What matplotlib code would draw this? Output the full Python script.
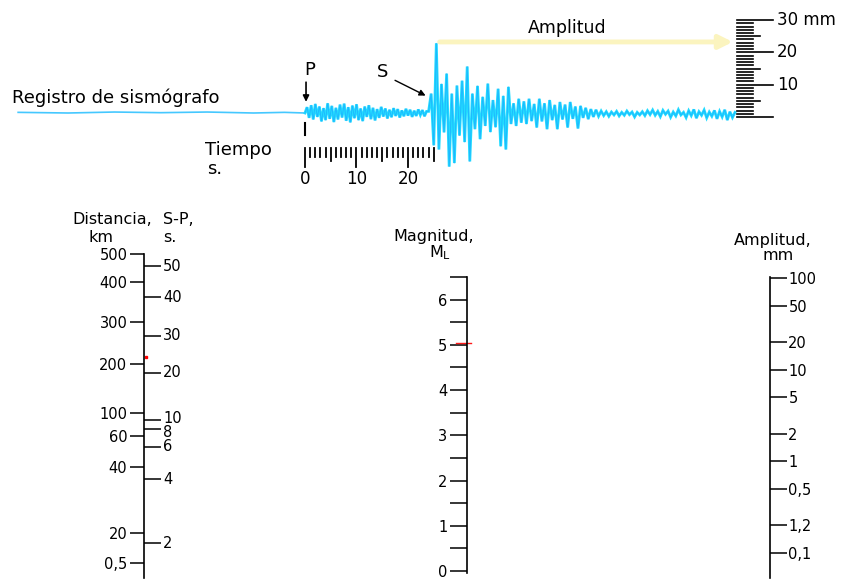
import matplotlib.pyplot as plt
import numpy as np
from matplotlib.ticker import FixedFormatter, FixedLocator, NullFormatter, NullLocator
from matplotlib.transforms import blended_transform_factory

W, H = 861, 581
plt.rcParams["font.family"] = ["DejaVu Sans"]

# ── Sismograma (tiempo en s desde P, amplitud en mm) ───────────────────────
pre_t = [-55.7, -46.0, -37.0, -28.0, -19.0, -10.0, -4.0, 0.0]
pre_a = [0.2, 0.0, 0.3, 0.1, 0.3, 0.0, 0.2, 0.0]

p_start, p_step = 0.0, 0.4
p_coda = [0.0, 1.8, -1.5, 2.4, -2.0, 2.8, -1.2, 2.0, -2.6, 1.5,
          -2.2, 3.0, -1.8, 2.2, -2.8, 1.6, -2.0, 2.6, -1.4, 2.9,
          -2.4, 1.8, -2.9, 2.3, -1.6, 2.7, -2.2, 1.4, -2.5, 2.0,
          -1.2, 2.4, -1.9, 1.6, -2.3, 1.2, -1.5, 1.9, -1.1, 1.4,
          -1.7, 1.0, -1.3, 1.5, -0.9, 1.2, -1.4, 0.8, -1.0, 1.3,
          -0.8, 1.0, -1.2, 0.7, -0.9, 1.1, -0.6, 0.9, -1.0, 0.5]

s_start, s_step = 24.0, 0.5
s_wave = [0.5, 6.0, -10.0, 21.6, -11.3, 9.0, -6.0, 12.2, -16.6, 6.0,
          -15.5, 8.5, -7.0, 10.0, -9.0, 14.4, -15.0, 6.0, -5.0, 8.4,
          -8.1, 5.0, -4.0, 9.1, -5.9, 4.0, -4.4, 7.5, -10.3, 5.3,
          -11.3, 8.1, -3.4, 3.0, -4.0, 4.4, -3.0, 3.6, -3.4, 4.4,
          -2.5, 2.8, -4.5, 4.4, -2.6, 3.0, -5.0, 4.0, -2.2, 2.5,
          -5.0, 3.4, -2.0, 2.6, -4.5, 3.4, -1.8, 2.0, -4.8, 2.2,
          -1.5, 1.6, -1.9, 1.2, -1.2, 1.0, -1.0]

tail_start, tail_step = 57.5, 0.5
tail = [0.6, -0.8, 0.4, -1.0, 0.3, -0.6, 0.5, -0.9, 0.2, -0.7,
        0.6, -0.5, 0.3, -1.2, 0.2, -0.6, 0.4, -0.8, 0.7, -0.5,
        0.9, -0.7, 0.5, -1.1, 0.8, -0.4, 0.6, -1.3, 0.3, -0.9,
        1.0, -0.6, 0.2, -1.4, 0.7, -0.8, 1.1, -1.6, 0.4, -0.7,
        0.9, -1.5, 0.3, -1.0, 0.8, -1.8, 0.5, -1.2, 1.0, -2.2,
        0.4, -1.4, 0.2]

time_ticks = list(range(0, 26))
time_labels = [0, 10, 20]
ruler_mm = list(range(0, 31))
ruler_labels = {30: "30 mm", 20: "20", 10: "10"}

# ── Nomograma ──────────────────────────────────────────────────────────────
# distancia sobre la escala -log A0 (Richter)
dist_logA0 = [4.73, 4.43, 3.99, 3.53, 3.0, 2.75, 2.41, 1.69, 1.36]
dist_labels = ["500", "400", "300", "200", "100", "60", "40", "20", "0,5"]
sp_logA0 = [4.60, 4.26, 3.84, 3.44, 2.92, 2.83, 2.63, 2.28, 1.58]
sp_labels = ["50", "40", "30", "20", "10", "8", "6", "4", "2"]

mag_major = [0, 1, 2, 3, 4, 5, 6]
mag_minor = [0.5, 1.5, 2.5, 3.5, 4.5, 5.5, 6.5]

amp_values = [100, 50, 20, 10, 5, 2, 1, 0.5, 0.2, 0.1]
amp_labels = ["100", "50", "20", "10", "5", "2", "1", "0,5", "1,2", "0,1"]

reading_dist = 3.61
reading_mag = 5.05

TRACE = "#22dcff"
TRACE_DARK = "#1a9cff"
ARROW_Y = "#fbf4bf"


def fx(px):
    return px / W


def fy(py):
    return 1 - py / H


fig = plt.figure(figsize=(W / 100, H / 100), dpi=100)

# ── parte superior ─────────────────────────────────────────────────────────
PX_S, PX_MM = 5.15, 3.23
ax = fig.add_axes([0, fy(200), 1, 200 / H])
ax.set_xlim(-305 / PX_S, (W - 305) / PX_S)
ax.set_ylim(-87 / PX_MM, 113 / PX_MM)
ax.axis("off")

t = np.concatenate([
    p_start + p_step * np.arange(len(p_coda)),
    s_start + s_step * np.arange(len(s_wave)),
    tail_start + tail_step * np.arange(len(tail)),
])
a = np.concatenate([p_coda, s_wave, tail])
ax.plot(pre_t, pre_a, color="#45c8ff", lw=1.2)
ax.plot(t, a, color=TRACE, lw=2.0, solid_joinstyle="miter")
ax.plot(t, a, color=TRACE_DARK, lw=0.6, alpha=0.6)

ax.text(-56.9, 4.6, "Registro de sismógrafo", fontsize=13, va="center", ha="left")
ax.text(1.0, 13.3, "P", fontsize=13, ha="center", va="center")
ax.annotate("", xy=(0.2, 2.6), xytext=(0.2, 10.4),
            arrowprops=dict(arrowstyle="-|>", color="black", lw=1.2, mutation_scale=9))
ax.text(15.1, 12.7, "S", fontsize=13, ha="center", va="center")
ax.annotate("", xy=(23.9, 5.0), xytext=(17.0, 10.5),
            arrowprops=dict(arrowstyle="-|>", color="black", lw=1.0, mutation_scale=9))
ax.plot([0, 0], [-3.1, -6.8], color="black", lw=1.5)

# escala de tiempo
for s in time_ticks:
    low = -16.7 if s % 10 == 0 else (-15.0 if s % 5 == 0 else -13.6)
    ax.plot([s, s], [-10.8, low], color="black", lw=1.3)
for s in time_labels:
    ax.text(s, -20.3, str(s), fontsize=12, ha="center", va="center")
ax.text(-19.4, -11.5, "Tiempo", fontsize=13, ha="left", va="center")
ax.text(-19.0, -17.2, "s.", fontsize=13, ha="left", va="center")

# flecha de amplitud
ax.annotate("", xy=(83.6, 22.0), xytext=(25.6, 22.0),
            arrowprops=dict(arrowstyle="-|>", color=ARROW_Y, lw=3.5, mutation_scale=20))
ax.text(50.9, 26.4, "Amplitud", fontsize=12.5, ha="center", va="center")

# regla de amplitud
RULER_X0, RULER_Y0 = 83.9, -1.24
for mm in ruler_mm:
    end = 90.9 if mm % 10 == 0 else (88.3 if mm % 5 == 0 else 87.0)
    ax.plot([RULER_X0, end], [RULER_Y0 + mm] * 2, color="black", lw=1.2)
for mm, lab in ruler_labels.items():
    ax.text(91.6, RULER_Y0 + mm, lab, fontsize=12, ha="left", va="center")


# ── nomograma ──────────────────────────────────────────────────────────────
def column_axes(x_px, top_px, bottom_px):
    c = fig.add_axes([fx(x_px), fy(bottom_px), 0.0003, (bottom_px - top_px) / H])
    c.patch.set_visible(False)
    for sp in c.spines.values():
        sp.set_visible(False)
    c.xaxis.set_major_locator(NullLocator())
    return c


def style_axis(c, side, length, pad, size=10.5):
    c.tick_params(axis="y", which="both", direction="out", length=length,
                  width=1.1, pad=pad, labelsize=size, colors="black")
    if side == "left":
        c.yaxis.tick_left()
    else:
        c.yaxis.tick_right()


# distancia / S-P
ax_d = column_axes(144, 254, 578)
ax_d.set_ylim(3 + (413 - 578) / 91.7, 3 + (413 - 254) / 91.7)
ax_d.spines["left"].set_visible(True)
ax_d.spines["left"].set_linewidth(1.2)
ax_d.yaxis.set_major_locator(FixedLocator(dist_logA0))
ax_d.yaxis.set_major_formatter(FixedFormatter(dist_labels))
ax_d.yaxis.set_minor_locator(NullLocator())
style_axis(ax_d, "left", 10, 2)

ax_sp = ax_d.twinx()
for sp in ax_sp.spines.values():
    sp.set_visible(False)
ax_sp.set_ylim(ax_d.get_ylim())
ax_sp.yaxis.set_major_locator(FixedLocator(sp_logA0))
ax_sp.yaxis.set_major_formatter(NullFormatter())
ax_sp.yaxis.set_minor_locator(NullLocator())
style_axis(ax_sp, "right", 12, 1.5)

# etiquetas S-P: "10" y "8" quedan muy juntas, se separan un poco
tr_sp = blended_transform_factory(fig.transFigure, ax_sp.transData)
for v, lab in zip(sp_logA0, sp_labels):
    dy = {"10": 1.5, "8": -2.5}.get(lab, 0)
    ax_sp.annotate(lab, xy=(fx(161), v), xycoords=tr_sp, xytext=(1.5, dy),
                   textcoords="offset points", ha="left", va="center",
                   fontsize=10.5, annotation_clip=False)

tr_d = blended_transform_factory(fig.transFigure, ax_d.transData)
ax_d.plot([fx(145.5)], [reading_dist], "s", ms=1.5, color="red",
          transform=tr_d, clip_on=False)

# magnitud
ax_m = column_axes(467, 277, 571)
ax_m.set_ylim(0, 6.5)
ax_m.spines["left"].set_visible(True)
ax_m.spines["left"].set_linewidth(1.2)
ax_m.spines["left"].set_bounds(-0.04, 6.5)
ax_m.yaxis.set_major_locator(FixedLocator(mag_major))
ax_m.yaxis.set_minor_locator(FixedLocator(mag_minor))
style_axis(ax_m, "left", 12, 2)
tr_m = blended_transform_factory(fig.transFigure, ax_m.transData)
ax_m.plot([fx(456), fx(471)], [reading_mag] * 2, color="#ff1a1a", lw=1.0,
          transform=tr_m, clip_on=False)

# amplitud
ax_a = column_axes(770, 278, 578)
ax_a.set_yscale("log")
ax_a.set_ylim(10 ** (2 - 300 / 91.7), 100)
ax_a.spines["right"].set_visible(True)
ax_a.spines["right"].set_linewidth(1.2)
ax_a.spines["right"].set_bounds(10 ** (2 - 300 / 91.7), 10 ** (2 + 1 / 91.7))
ax_a.yaxis.set_major_locator(FixedLocator(amp_values))
ax_a.yaxis.set_major_formatter(FixedFormatter(amp_labels))
ax_a.yaxis.set_minor_locator(NullLocator())
style_axis(ax_a, "right", 12, 1)

# títulos de las escalas
hdr = dict(fontsize=11.5, va="center")
fig.text(fx(152), fy(220), "Distancia,", ha="right", **hdr)
fig.text(fx(113), fy(237), "km", ha="right", **hdr)
fig.text(fx(163), fy(220), "S-P,", ha="left", **hdr)
fig.text(fx(163), fy(237), "s.", ha="left", **hdr)
fig.text(fx(434), fy(236), "Magnitud,", ha="center", **hdr)
fig.text(fx(440), fy(253), r"M$_\mathregular{L}$", ha="center", **hdr)
fig.text(fx(773), fy(241), "Amplitud,", ha="center", **hdr)
fig.text(fx(778), fy(256), "mm", ha="center", **hdr)

fig.savefig("out.png", dpi=100)
